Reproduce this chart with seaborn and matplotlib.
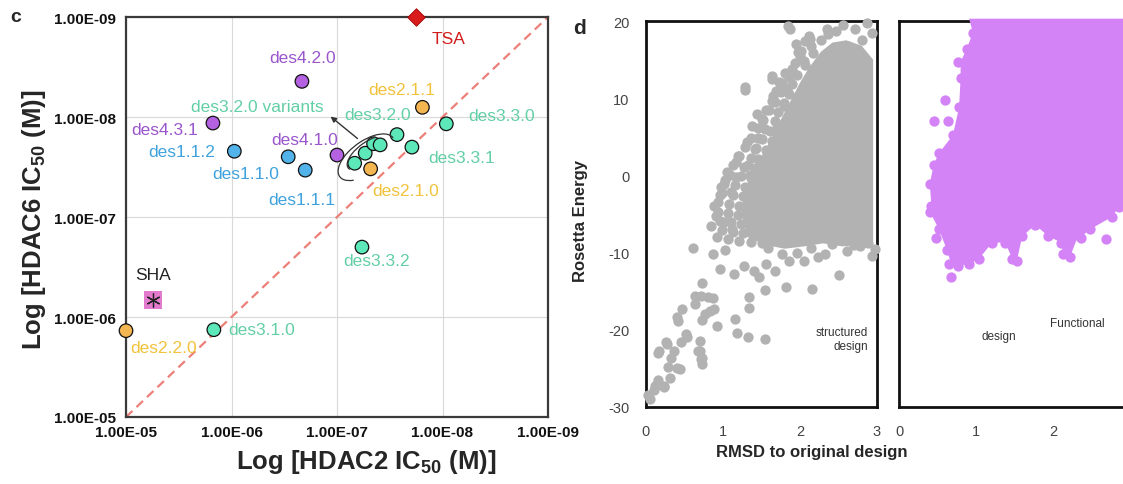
import numpy as np
import pandas as pd
import matplotlib
matplotlib.use("Agg")
import matplotlib.pyplot as plt
import seaborn as sns
from matplotlib.patches import Arc
from matplotlib.transforms import IdentityTransform

# ---------------- panel c: HDAC2 vs HDAC6 IC50 (M) ----------------
compound = ["TSA", "des4.2.0", "des2.1.1", "des4.3.1", "des3.3.0", "des1.1.2",
            "des1.1.0", "des1.1.1", "des4.1.0", "des3.2.0", "des3.2.0 var a",
            "des3.2.0 var b", "des3.2.0 var c", "des3.2.0 var d", "des3.3.1",
            "des2.1.0", "des3.3.2", "SHA", "des3.1.0", "des2.2.0"]
family = ["TSA", "des4", "des2", "des4", "des3", "des1", "des1", "des1", "des4",
          "des3", "des3", "des3", "des3", "des3", "des3", "des2", "des3", "SHA",
          "des3", "des2"]
hdac2_ic50 = [1.8e-8, 2.15e-7, 1.55e-8, 1.5e-6, 9.2e-9, 9.4e-7, 2.9e-7, 2.0e-7,
              1.0e-7, 2.7e-8, 6.8e-8, 5.4e-8, 4.5e-8, 3.9e-8, 1.95e-8, 4.8e-8,
              5.8e-8, 5.5e-6, 1.47e-6, 1.0e-5]
hdac6_ic50 = [1.0e-9, 4.4e-9, 8.0e-9, 1.15e-8, 1.17e-8, 2.2e-8, 2.5e-8, 3.4e-8,
              2.4e-8, 1.5e-8, 2.9e-8, 2.3e-8, 1.85e-8, 1.9e-8, 2.0e-8, 3.3e-8,
              2.0e-7, 6.8e-7, 1.34e-6, 1.37e-6]
is_variant = [False] * 10 + [True] * 4 + [False] * 6
decade_ticks = [1e-5, 1e-6, 1e-7, 1e-8, 1e-9]

# ---------------- panel d: Rosetta energy vs RMSD ----------------
# individual structured-design models
gray_x = [1.84, 2.35, 2.56, 2.87, 2.12, 1.98, 2.14, 1.63, 1.77, 1.28, 1.86, 2.10,
          1.65, 1.79, 1.44, 1.38, 1.54, 1.70, 1.31, 1.42, 1.17, 1.33, 1.03, 1.17,
          1.35, 0.96, 1.10, 0.91, 1.01, 1.12, 1.87, 2.13, 2.37, 2.00, 1.29, 1.63,
          1.83, 1.68, 1.95, 2.05, 1.90, 1.75, 1.60, 1.52, 1.45, 1.20, 1.05, 0.98,
          0.88, 0.85, 0.92,
          0.61, 0.87, 1.03, 0.96, 1.14, 1.27, 1.40, 1.47, 1.54, 1.82, 2.16, 2.51,
          2.78, 2.94, 1.34, 1.34, 0.73, 0.64, 0.80, 0.87, 0.88, 0.47, 0.40, 0.77,
          0.73, 0.92, 1.16, 1.18, 1.32, 1.55, 0.52, 0.46, 0.26, 0.17, 0.36, 0.70,
          0.70, 0.73, 0.73, 0.33, 0.29, 0.40, 0.31, 0.15, 0.24, 0.10, 0.03, 0.13,
          0.72, 0.64, 0.83, 0.42, 0.53, 0.68, 0.72, 0.27, 0.16, 0.44, 0.23, 0.12,
          0.05, 1.59, 1.77, 1.96, 2.14, 2.33, 2.42, 2.61, 1.56, 1.68, 1.86, 2.05,
          2.23, 2.70, 2.88, 2.98,
          2.47, 2.71, 2.93, 2.06, 2.27, 2.01, 2.17, 1.93, 2.07, 1.81, 1.96, 1.73,
          1.89, 1.69, 1.86, 1.63, 1.79, 1.56, 1.71, 1.51, 1.67, 1.46, 1.61, 1.36,
          1.51, 1.63, 1.29, 1.43, 1.56, 1.21, 1.36, 1.46, 1.13, 1.27, 1.41, 1.09,
          1.23, 1.36, 1.01, 1.15, 1.29, 0.99, 1.13, 1.26, 0.94, 1.08, 1.21, 0.93,
          1.06, 1.19, 0.96, 1.11, 1.23, 0.99, 1.13, 1.26, 1.06, 1.21, 1.36, 1.51,
          2.62, 2.80, 2.45, 2.70]
gray_y = [19.4, 18.9, 19.5, 19.8, 18.0, 16.0, 16.7, 12.9, 12.0, 11.5, 12.7, 11.4,
          10.3, 9.0, 7.9, 6.4, 6.0, 6.2, 4.3, 3.4, 1.7, 1.3, -0.6, -0.2,
          0.0, -2.6, -2.1, -5.2, -6.0, -6.9, 19.0, 17.7, 18.3, 15.5, 11.0, 12.5,
          11.2, 9.5, 17.0, 14.8, 13.8, 10.8, 8.5, 7.2, 4.8, 2.5, 0.5, -1.5,
          -4.0, -6.5, -8.0,
          -9.4, -10.2, -9.6, -12.1, -12.8, -11.7, -12.4, -13.2, -14.9, -14.4, -14.7, -12.9,
          -9.1, -10.4, -15.7, -17.2, -13.9, -15.6, -15.7, -15.9, -17.3, -17.3, -18.4, -18.0,
          -18.7, -19.5, -18.6, -20.4, -20.9, -21.2, -20.6, -21.6, -21.6, -22.7, -22.7, -21.4,
          -22.7, -23.7, -24.4, -23.7, -24.8, -25.0, -26.3, -26.5, -27.4, -27.8, -28.5, -27.2,
          -15.6, -16.7, -17.5, -18.8, -20.9, -22.7, -23.8, -21.8, -23.0, -25.1, -27.3, -27.3,
          -29.0, -9.4, -10.2, -10.0, -9.4, -10.2, -8.9, -9.8, -11.5, -12.4, -11.1, -11.1,
          -10.6, -9.0, -8.8, -9.5,
          18.7, 18.9, 18.5, 17.4, 17.6, 16.1, 15.8, 14.6, 14.3, 13.3, 13.0, 12.1,
          11.8, 10.9, 10.6, 9.7, 9.4, 8.5, 8.2, 7.3, 7.0, 6.1, 5.8, 4.9,
          4.7, 4.5, 3.7, 3.5, 3.3, 2.5, 2.3, 2.1, 1.3, 1.1, 0.9, 0.1,
          -0.1, -0.3, -1.1, -1.3, -1.5, -2.3, -2.5, -2.7, -3.5, -3.7, -3.9, -4.7,
          -4.9, -5.1, -5.9, -6.1, -6.3, -7.1, -7.3, -7.5, -8.3, -8.5, -8.6, -8.8,
          16.8, 17.5, 16.2, 15.9]
# outline of the densely packed structured-design models
gray_core_x = [1.32, 1.24, 1.27, 1.37, 1.47, 1.62, 1.74, 1.87, 2.00, 2.12, 2.27, 2.42,
               2.60, 2.80, 2.95, 2.95, 2.80, 2.55, 2.30, 2.05, 1.80, 1.55]
gray_core_y = [-8.0, -5.0, -2.0, 0.0, 2.0, 4.5, 7.0, 9.5, 12.0, 14.0, 16.0, 17.2,
               17.5, 16.8, 15.0, -8.5, -9.0, -9.2, -8.8, -9.2, -9.5, -9.0]

# functional-design models: outline of the dense cloud and its edge models
purple_core_x = [0.91, 0.96, 0.88, 0.80, 0.80, 0.78, 0.70, 0.52, 0.45, 0.40, 0.42, 0.40,
                 0.52, 0.62, 0.68, 0.76, 0.91, 1.04, 1.21, 1.38, 1.47, 1.53, 1.60, 1.77,
                 1.94, 2.11, 2.13, 2.22, 2.30, 2.48, 2.76, 2.86, 3.00, 3.00]
purple_core_y = [20.3, 18.5, 16.4, 14.7, 12.6, 8.8, 5.2, 2.9, 1.4, -1.1, -3.9, -4.7,
                 -7.0, -9.6, -11.5, -11.7, -11.5, -10.8, -8.7, -8.7, -10.8, -11.1, -7.9, -6.4,
                 -7.9, -8.7, -10.2, -10.6, -8.5, -7.0, -5.4, -4.1, -3.5, 20.3]
purple_x = [0.96, 0.88, 0.76, 0.80, 0.60, 0.78, 0.46, 0.63, 0.70, 0.52, 0.45, 0.40,
            0.42, 0.40, 0.52, 0.48, 0.62, 0.65, 0.67, 0.76, 0.91, 1.04, 1.21, 1.38,
            1.47, 1.53, 1.60, 1.77, 1.94, 2.11, 2.13, 2.22, 2.37, 2.48, 2.69, 2.76,
            2.86]
purple_y = [18.5, 16.4, 14.7, 12.6, 9.8, 8.8, 7.1, 7.1, 5.2, 2.9, 1.4, -1.1,
            -3.9, -4.7, -7.0, -8.1, -9.6, -11.5, -13.2, -11.7, -11.5, -10.8, -8.7, -8.7,
            -10.8, -11.1, -7.9, -6.4, -7.9, -8.7, -10.2, -10.6, -8.1, -7.0, -8.3, -5.4,
            -4.1]

# ---------------- styling ----------------
fill_colors = {"des1": "#52b3ea", "des2": "#f4b650", "des3": "#5ce8b9", "des4": "#b462e2"}
text_colors = {"des1": "#3ea2de", "des2": "#f2c23c", "des3": "#63cfa6", "des4": "#9a56cc",
               "TSA": "#d21d1d", "SHA": "#222222"}
label_offsets = {  # pixels from the marker
    "TSA": (33, -21), "des4.2.0": (1, 24), "des2.1.1": (-21, 18), "des3.2.0": (-19, 20),
    "des3.3.0": (55, 8), "des4.3.1": (-48, -6), "des4.1.0": (-32, 16),
    "des1.1.2": (-53, 0), "des1.1.0": (-43, -17), "des1.1.1": (-3, -29),
    "des3.3.1": (50, -10), "des2.1.0": (35, -22), "des3.3.2": (15, -13),
    "SHA": (0, 26), "des3.1.0": (48, 0), "des2.2.0": (38, -17),
}
gray_color = "#b2b2b2"
purple_color = "#d383f6"

sns.set_theme(style="white")
plt.rcParams["font.family"] = ["Liberation Sans", "DejaVu Sans"]
plt.rcParams["mathtext.fontset"] = "custom"
plt.rcParams["mathtext.rm"] = "Liberation Sans"
plt.rcParams["mathtext.bf"] = "Liberation Sans:bold"
plt.rcParams["axes.unicode_minus"] = False

W, H = 1123, 485
fig = plt.figure(figsize=(W / 100, H / 100), dpi=100)


def box(left, top, right, bottom):
    return [left / W, 1 - bottom / H, (right - left) / W, (bottom - top) / H]


# ================= panel c =================
df = pd.DataFrame({"compound": compound, "family": family, "hdac2": hdac2_ic50,
                   "hdac6": hdac6_ic50, "variant": is_variant})
axc = fig.add_axes(box(126, 18, 548, 418))
axc.set_xscale("log")
axc.set_yscale("log")

lo, hi = decade_ticks[0], decade_ticks[-1]
axc.plot([lo, hi], [lo, hi], ls=(0, (4, 2.5)), color="#ec7f78", lw=1.6, zorder=2)

circles = df[~df.family.isin(["TSA", "SHA"])]
sns.scatterplot(data=circles, x="hdac2", y="hdac6", hue="family", palette=fill_colors,
                s=95, edgecolor="#111111", linewidth=0.9, legend=False, ax=axc,
                zorder=4, clip_on=False)
tsa = df[df.family == "TSA"]
sns.scatterplot(data=tsa, x="hdac2", y="hdac6", marker="D", color="#d81b1b", s=80,
                edgecolor="#a00000", linewidth=0.6, legend=False, ax=axc, zorder=5,
                clip_on=False)
sha = df[df.family == "SHA"]
sns.scatterplot(data=sha, x="hdac2", y="hdac6", marker="s", color="#e27bcd", s=150,
                linewidth=0, legend=False, ax=axc, zorder=4)
sns.scatterplot(data=sha, x="hdac2", y="hdac6", marker=(6, 2, 0), color="#222222",
                s=90, linewidth=0.9, legend=False, ax=axc, zorder=5)

for _, row in df.iterrows():
    if row.variant:
        continue
    dx, dy = label_offsets[row.compound]
    axc.annotate(row.compound, (row.hdac2, row.hdac6), xytext=(dx, dy),
                 textcoords="offset pixels", ha="center", va="center",
                 fontsize=12.5, color=text_colors[row.family], zorder=6)

var = df[df.variant]
axc.text(5.65e-7, 7.9e-9, "des3.2.0 variants", ha="center", va="center",
         fontsize=12.5, color=text_colors["des3"], zorder=6)
axc.annotate("", xy=(1.15e-7, 9.9e-9), xytext=(6.4e-8, 1.64e-8),
             arrowprops=dict(arrowstyle="-|>", color="#333333", lw=1.0,
                             mutation_scale=8, shrinkA=0, shrinkB=0), zorder=6)

axc.set_xlim(lo, hi)
axc.set_ylim(lo, hi)
tick_labels = [f"{t:.2E}" for t in decade_ticks]
axc.set_xticks(decade_ticks, labels=tick_labels, fontweight="bold")
axc.set_yticks(decade_ticks, labels=tick_labels, fontweight="bold")
axc.minorticks_off()
axc.tick_params(axis="both", length=0, labelsize=11, colors="#111111")
axc.tick_params(axis="x", pad=6)
axc.tick_params(axis="y", pad=7)
axc.grid(True, color="#d9d9d9", lw=0.8, zorder=0)
axc.set_axisbelow(True)
for sp in axc.spines.values():
    sp.set_visible(True)
    sp.set_color("#3a3a3a")
    sp.set_linewidth(1.6)
axc.set_xlabel("")
axc.set_ylabel("")

# brackets around the variant cluster
pts = axc.transData.transform(np.column_stack([var.hdac2, var.hdac6]))
cx, cy = pts.mean(axis=0)
for w, h, t1, t2, ox, oy in [(66, 32, 0, 205, -2, -6), (50, 22, 30, 185, 0, -2)]:
    fig.add_artist(Arc((cx + ox, cy + oy), w, h, angle=36, theta1=t1, theta2=t2,
                       transform=IdentityTransform(), color="#333333", lw=0.9,
                       zorder=6))

fig.text(34 / W, 1 - 220 / H, r"Log [HDAC6 IC$_{\mathbf{50}}$ (M)]", rotation=90,
         ha="center", va="center", fontsize=18.5, fontweight="bold")
fig.text(366 / W, 1 - 462 / H, r"Log [HDAC2 IC$_{\mathbf{50}}$ (M)]",
         ha="center", va="center", fontsize=18.5, fontweight="bold")
fig.text(16 / W, 1 - 17 / H, "c", ha="center", va="center", fontsize=14,
         fontweight="bold")

# ================= panel d =================
axl = fig.add_axes(box(646, 22, 877, 408))
axr = fig.add_axes(box(899, 22, 1130, 408))

axl.fill(gray_core_x, gray_core_y, color=gray_color, lw=0, zorder=3)
sns.scatterplot(x=gray_x, y=gray_y, color=gray_color, s=55, linewidth=0, ax=axl,
                zorder=3, clip_on=False)

axr.fill(purple_core_x, purple_core_y, color=purple_color, lw=0, zorder=3,
         clip_on=False)
sns.scatterplot(x=purple_x, y=purple_y, color=purple_color, s=55, linewidth=0, ax=axr,
                zorder=3, clip_on=False)

for ax in (axl, axr):
    ax.set_xlim(0, 3)
    ax.set_ylim(-30, 20)
    ax.set_yticks([-30, -20, -10, 0, 10, 20])
    ax.tick_params(axis="x", length=3, color="#c8c8c8", labelsize=10.5,
                   labelcolor="#444444", pad=9)
    ax.tick_params(axis="y", length=0, labelsize=10.5, labelcolor="#444444", pad=12)
    for sp in ax.spines.values():
        sp.set_visible(True)
        sp.set_color("#111111")
        sp.set_linewidth(2)
    ax.set_xlabel("")
    ax.set_ylabel("")
axl.set_xticks([0, 1, 2, 3])
axr.set_xticks([0, 1, 2])
axr.tick_params(axis="y", labelleft=False)

axl.text(2.88, -20.3, "structured", ha="right", va="center", fontsize=8.5,
         color="#333333")
axl.text(2.88, -22.1, "design", ha="right", va="center", fontsize=8.5,
         color="#333333")
axr.text(2.31, -19.1, "Functional", ha="center", va="center", fontsize=8.5,
         color="#333333")
axr.text(1.30, -20.8, "design", ha="center", va="center", fontsize=8.5,
         color="#333333")

fig.text(580 / W, 1 - 221 / H, "Rosetta Energy", rotation=90, ha="center",
         va="center", fontsize=12, fontweight="bold")
fig.text(812 / W, 1 - 453 / H, "RMSD to original design", ha="center", va="center",
         fontsize=12, fontweight="bold")
fig.text(580 / W, 1 - 28 / H, "d", ha="center", va="center", fontsize=15,
         fontweight="bold")

fig.savefig("out.png", dpi=100, facecolor="white")
